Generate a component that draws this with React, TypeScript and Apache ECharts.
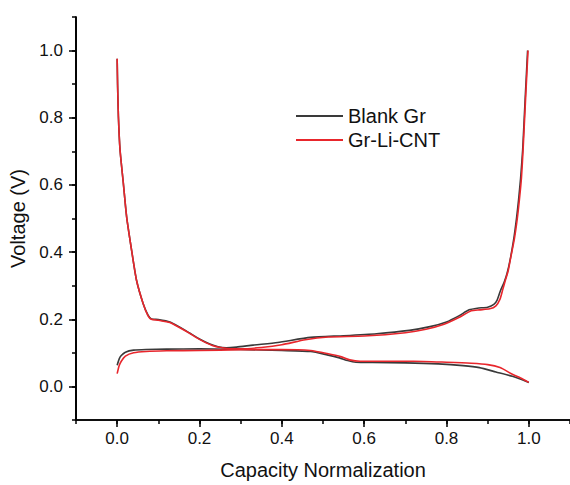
import React, { useEffect, useRef } from 'react';
import * as echarts from 'echarts';

const majorTicks = [0, 0.2, 0.4, 0.6, 0.8, 1.0];
const seriesNames = ['Blank Gr', 'Gr-Li-CNT'];
const colors = ['#3a3a3a', '#e8262c'];

// Blank Gr – lower (discharge) branch
const blankLowerX = [0, 0.005, 0.01, 0.02, 0.04, 0.07, 0.12, 0.2, 0.3, 0.4, 0.47, 0.51, 0.54, 0.56, 0.58, 0.62, 0.7, 0.78, 0.84, 0.88, 0.92, 0.96, 1.0];
const blankLowerY = [0.063, 0.082, 0.092, 0.102, 0.108, 0.11, 0.111, 0.112, 0.11, 0.107, 0.104, 0.094, 0.085, 0.077, 0.072, 0.071, 0.07, 0.067, 0.062, 0.056, 0.043, 0.03, 0.012];
// Blank Gr – upper branch
const blankUpperX = [0, 0.001, 0.003, 0.007, 0.015, 0.023, 0.035, 0.047, 0.063, 0.075, 0.083, 0.1, 0.128, 0.15, 0.176, 0.2, 0.225, 0.245, 0.265, 0.29, 0.33, 0.39, 0.47, 0.55, 0.63, 0.71, 0.76, 0.8, 0.83, 0.855, 0.875, 0.9, 0.915, 0.923, 0.931, 0.94, 0.947, 0.955, 0.963, 0.97, 0.975, 0.98, 0.985, 0.991, 0.997];
const blankUpperY = [0.976, 0.9, 0.804, 0.704, 0.605, 0.505, 0.406, 0.316, 0.247, 0.212, 0.201, 0.199, 0.192, 0.178, 0.159, 0.141, 0.126, 0.118, 0.115, 0.117, 0.123, 0.131, 0.146, 0.151, 0.157, 0.167, 0.178, 0.192, 0.21, 0.228, 0.233, 0.236, 0.244, 0.257, 0.285, 0.31, 0.336, 0.38, 0.436, 0.5, 0.555, 0.62, 0.704, 0.854, 1.0];
// Gr-Li-CNT – lower branch
const cntLowerX = [0, 0.005, 0.01, 0.02, 0.04, 0.07, 0.12, 0.2, 0.3, 0.4, 0.47, 0.51, 0.545, 0.565, 0.59, 0.65, 0.72, 0.8, 0.86, 0.9, 0.93, 0.96, 0.98, 1.0];
const cntLowerY = [0.038, 0.062, 0.075, 0.09, 0.1, 0.104, 0.106, 0.107, 0.109, 0.11, 0.107, 0.098, 0.088, 0.079, 0.075, 0.075, 0.075, 0.072, 0.069, 0.065, 0.056, 0.036, 0.025, 0.012];
// Gr-Li-CNT – upper branch
const cntUpperX = [0, 0.001, 0.003, 0.007, 0.015, 0.023, 0.035, 0.047, 0.063, 0.075, 0.083, 0.1, 0.128, 0.15, 0.176, 0.2, 0.231, 0.255, 0.275, 0.3, 0.35, 0.4, 0.457, 0.513, 0.6, 0.7, 0.75, 0.794, 0.83, 0.86, 0.88, 0.905, 0.92, 0.93, 0.937, 0.943, 0.95, 0.957, 0.965, 0.972, 0.977, 0.982, 0.986, 0.992, 0.998];
const cntUpperY = [0.976, 0.9, 0.804, 0.704, 0.605, 0.505, 0.406, 0.316, 0.247, 0.21, 0.2, 0.197, 0.19, 0.176, 0.158, 0.14, 0.122, 0.115, 0.112, 0.112, 0.116, 0.124, 0.139, 0.147, 0.15, 0.16, 0.17, 0.185, 0.205, 0.225, 0.228, 0.231, 0.24, 0.26, 0.29, 0.316, 0.345, 0.39, 0.44, 0.5, 0.555, 0.62, 0.704, 0.854, 1.0];

const FONT = 'Liberation Sans, Arial, sans-serif';

function pairs(xs: number[], ys: number[]) {
  return xs.map((x, i) => [x, ys[i]]);
}

function lineSeries(name: string, color: string, data: number[][]) {
  return {
    type: 'line',
    name,
    data,
    showSymbol: false,
    symbol: 'none',
    smooth: 0.2,
    lineStyle: { color, width: 1.6 },
    itemStyle: { color },
    xAxisIndex: 0,
    yAxisIndex: 0,
  };
}

export default function App() {
  const ref = useRef<HTMLDivElement>(null);
  useEffect(() => {
    if (!ref.current) return;
    const chart = echarts.init(ref.current, undefined, { renderer: 'svg' });
    const axisLineStyle = { color: '#000', width: 1.5 };
    chart.setOption({
      animation: false,
      backgroundColor: '#fff',
      grid: { left: 75, top: 17, width: 499, height: 403, containLabel: false },
      legend: {
        data: seriesNames,
        orient: 'vertical',
        left: 291,
        top: 101,
        padding: 5,
        icon: 'rect',
        itemWidth: 47,
        itemHeight: 2,
        itemGap: 4,
        textStyle: { fontFamily: FONT, fontSize: 20, color: '#111' },
      },
      xAxis: [
        {
          type: 'value',
          min: -0.1,
          max: 1.1,
          position: 'bottom',
          name: 'Capacity Normalization',
          nameLocation: 'middle',
          nameGap: 40,
          nameTextStyle: { fontFamily: FONT, fontSize: 20, color: '#111' },
          axisLine: { show: true, onZero: false, lineStyle: axisLineStyle },
          axisTick: { show: true, inside: false, length: 7, customValues: majorTicks, lineStyle: axisLineStyle },
          axisLabel: {
            show: true,
            margin: 10,
            customValues: majorTicks,
            formatter: (v: number) => v.toFixed(1),
            fontFamily: FONT,
            fontSize: 17,
            color: '#111',
          },
          splitLine: { show: false },
        },
        {
          type: 'value',
          min: -0.1,
          max: 1.1,
          interval: 0.1,
          position: 'bottom',
          axisLine: { show: true, onZero: false, lineStyle: axisLineStyle },
          axisTick: { show: true, inside: false, length: 4, lineStyle: axisLineStyle },
          axisLabel: { show: false },
          splitLine: { show: false },
        },
        {
          // draws the left frame line (at x = -0.1) through its split line
          type: 'value',
          min: -0.1,
          max: 1.1,
          interval: 1.2,
          position: 'bottom',
          axisLine: { show: false, onZero: false },
          axisTick: { show: false },
          axisLabel: { show: false },
          splitLine: { show: true, showMinLine: true, showMaxLine: false, lineStyle: axisLineStyle },
        },
      ],
      yAxis: [
        {
          type: 'value',
          min: -0.1,
          max: 1.1,
          position: 'left',
          name: 'Voltage (V)',
          nameLocation: 'middle',
          nameGap: 48,
          nameTextStyle: { fontFamily: FONT, fontSize: 20, color: '#111' },
          axisLine: { show: true, onZero: false, lineStyle: axisLineStyle },
          axisTick: { show: true, inside: false, length: 7, customValues: majorTicks, lineStyle: axisLineStyle },
          axisLabel: {
            show: true,
            margin: 13,
            customValues: majorTicks,
            formatter: (v: number) => v.toFixed(1),
            fontFamily: FONT,
            fontSize: 17,
            color: '#111',
          },
          splitLine: { show: false },
        },
        {
          type: 'value',
          min: -0.1,
          max: 1.1,
          interval: 0.1,
          position: 'left',
          axisLine: { show: true, onZero: false, lineStyle: axisLineStyle },
          axisTick: { show: true, inside: false, length: 4, lineStyle: axisLineStyle },
          axisLabel: { show: false },
          splitLine: { show: false },
        },
      ],
      series: [
        lineSeries(seriesNames[0], colors[0], pairs(blankLowerX, blankLowerY)),
        lineSeries(seriesNames[0], colors[0], pairs(blankUpperX, blankUpperY)),
        lineSeries(seriesNames[1], colors[1], pairs(cntLowerX, cntLowerY)),
        lineSeries(seriesNames[1], colors[1], pairs(cntUpperX, cntUpperY)),
      ],
    });
    return () => chart.dispose();
  }, []);
  return (
    <div
      ref={ref}
      style={{ position: 'fixed', left: 0, top: 0, width: 570, height: 485, background: '#fff' }}
    />
  );
}
